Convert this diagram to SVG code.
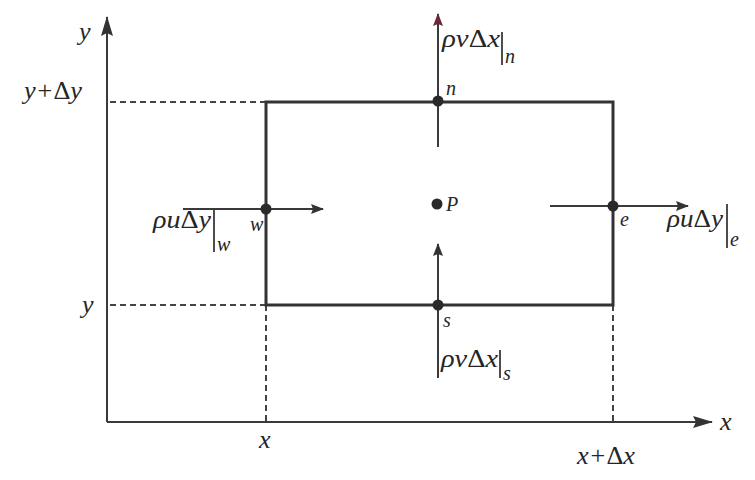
<svg xmlns="http://www.w3.org/2000/svg" width="755" height="480" viewBox="0 0 755 480">
<defs>
<marker id="ah" markerWidth="13" markerHeight="10" refX="12" refY="5" orient="auto" markerUnits="userSpaceOnUse">
<path d="M0,0 L13,5 L0,10 L2,5 Z" fill="#333"/>
</marker>
<marker id="ahBig" markerWidth="20" markerHeight="12" refX="19" refY="6" orient="auto" markerUnits="userSpaceOnUse">
<path d="M0,0 L20,6 L0,12 L3,6 Z" fill="#333"/>
</marker>
<marker id="ahRed" markerWidth="13" markerHeight="10" refX="12" refY="5" orient="auto" markerUnits="userSpaceOnUse">
<path d="M0,0 L13,5 L0,10 L2,5 Z" fill="#6a2a3a"/>
</marker>
</defs>
<style>
.axis{stroke:#3a3a3a;stroke-width:2;fill:none}
.box{stroke:#333;stroke-width:3;fill:none}
.dash{stroke:#444;stroke-width:2;stroke-dasharray:6 4;fill:none}
.flux{stroke:#3a3a3a;stroke-width:2;fill:none}
.bar{stroke:#3a3a3a;stroke-width:1.8}
.dot{fill:#2a2a2a}
.t{font-family:'Liberation Serif','Times New Roman',serif;font-style:italic;fill:#262626}
.up{font-style:normal}
.lab{font-size:26px}
.sub{font-size:20px}
.pt{font-size:20px}
</style>
<rect width="755" height="480" fill="#fff"/>
<g id="axes">
<line class="axis" x1="107" y1="422" x2="107" y2="17" marker-end="url(#ahBig)"/>
<line class="axis" x1="107" y1="422" x2="712" y2="422" marker-end="url(#ahBig)"/>
<text class="t lab" x="79" y="40">y</text>
<text class="t lab" x="720" y="430">x</text>
<text class="t lab" x="24" y="99" textLength="58" lengthAdjust="spacingAndGlyphs">y+<tspan class="up">Δ</tspan>y</text>
<text class="t lab" x="82" y="313">y</text>
<text class="t lab" x="259" y="448">x</text>
<text class="t lab" x="577" y="464" textLength="58" lengthAdjust="spacingAndGlyphs">x+<tspan class="up">Δ</tspan>x</text>
</g>
<g id="guides">
<line class="dash" x1="110" y1="102" x2="266" y2="102"/>
<line class="dash" x1="110" y1="305" x2="266" y2="305"/>
<line class="dash" x1="266" y1="305" x2="266" y2="421"/>
<line class="dash" x1="613" y1="305" x2="613" y2="421"/>
</g>
<g id="control-volume">
<rect class="box" x="266" y="102" width="347" height="203"/>
</g>
<g id="connectors">
<line class="flux" x1="183" y1="209" x2="323" y2="209" marker-end="url(#ah)"/>
<line class="flux" x1="550" y1="206" x2="688" y2="206" marker-end="url(#ah)"/>
<line class="flux" x1="438" y1="147" x2="438" y2="14" marker-end="url(#ahRed)"/>
<line class="flux" x1="438" y1="378" x2="438" y2="244" marker-end="url(#ah)"/>
</g>
<g id="node-w">
<circle class="dot" cx="266" cy="209" r="5.5"/>
<text class="t pt" x="250" y="231">w</text>
<text class="t lab" x="153" y="228" textLength="58" lengthAdjust="spacingAndGlyphs">ρu<tspan class="up">Δ</tspan>y</text>
<line class="bar" x1="214" y1="210" x2="214" y2="252"/>
<text class="t sub" x="217" y="251">w</text>
</g>
<g id="node-e">
<circle class="dot" cx="613" cy="206" r="5.5"/>
<text class="t pt" x="620" y="226">e</text>
<text class="t lab" x="667" y="227" textLength="56" lengthAdjust="spacingAndGlyphs">ρu<tspan class="up">Δ</tspan>y</text>
<line class="bar" x1="727" y1="204" x2="727" y2="248"/>
<text class="t sub" x="730" y="246">e</text>
</g>
<g id="node-n">
<circle class="dot" cx="438" cy="101" r="5.5"/>
<text class="t pt" x="446" y="95">n</text>
<text class="t lab" x="442" y="47" textLength="58" lengthAdjust="spacingAndGlyphs">ρv<tspan class="up">Δ</tspan>x</text>
<line class="bar" x1="502" y1="32" x2="502" y2="65"/>
<text class="t sub" x="505" y="63">n</text>
</g>
<g id="node-s">
<circle class="dot" cx="438" cy="305" r="5.5"/>
<text class="t pt" x="443" y="327">s</text>
<text class="t lab" x="441" y="367" textLength="57" lengthAdjust="spacingAndGlyphs">ρv<tspan class="up">Δ</tspan>x</text>
<line class="bar" x1="500" y1="350" x2="500" y2="378"/>
<text class="t sub" x="503" y="380">s</text>
</g>
<g id="node-P">
<circle class="dot" cx="437" cy="204" r="5.5"/>
<text class="t pt" x="446" y="211">P</text>
</g>
</svg>
